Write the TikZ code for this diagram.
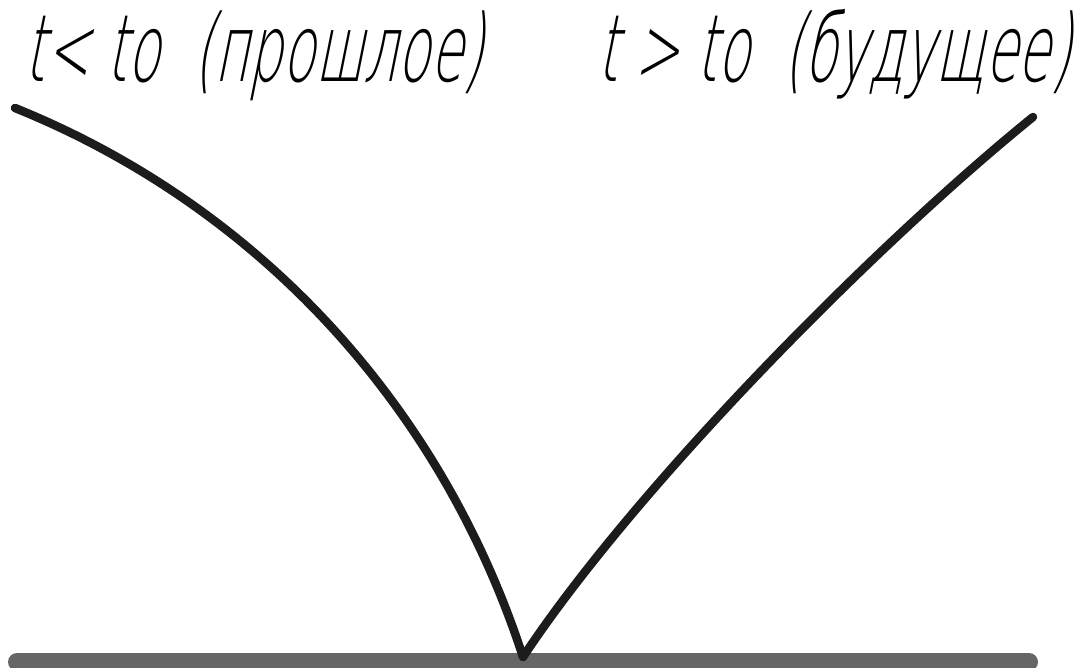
\documentclass[tikz,border=0pt]{standalone}
\usepackage{fontspec}
\newfontfamily\gostfont[FakeSlant=0.2,FakeStretch=0.57]{DejaVu Sans ExtraLight}
\definecolor{coneInk}{HTML}{1C1C1C}
\definecolor{groundGray}{HTML}{666666}
\tikzset{
  cone diagram/.style={line cap=round, line join=round},
  world line/.style={draw=coneInk, line width=0.17cm},
  ground bar/.style={draw=groundGray, line width=0.36cm},
  time label/.style={font=\gostfont\fontsize{53}{53}\selectfont,
    text=black, inner sep=0pt, anchor=base west}
}
\begin{document}
\begin{tikzpicture}[cone diagram, x=0.02cm, y=0.02cm]
\useasboundingbox (0,0) rectangle (1089,667);
% labels
\node[time label] (past) at (24,585) {t< to\ \ (прошлое)};
\node[time label] (future) at (597,585) {t > to\ \ (будущее)};
% ground and the two branches
\coordinate (groundL) at (17,5);
\coordinate (groundR) at (1029,5);
\coordinate (pastend) at (15,559);
\coordinate (apex) at (523,10);
\coordinate (futureend) at (1033,550);
\draw[ground bar] (groundL) -- (groundR);
\draw[world line] (pastend) to[out=-22,in=108,looseness=0.9] (apex);
\draw[world line] (apex) to[out=56.5,in=-141,looseness=0.7] (futureend);
\end{tikzpicture}
\end{document}
